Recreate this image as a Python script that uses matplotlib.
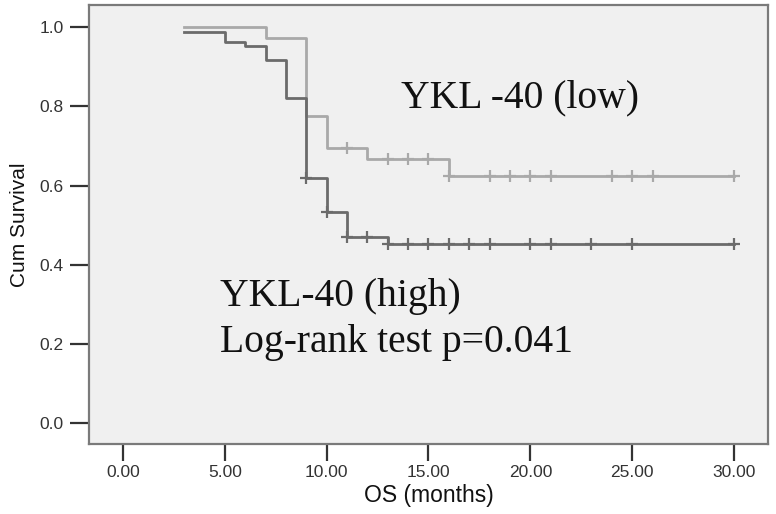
import numpy as np
import matplotlib
matplotlib.use("Agg")
import matplotlib.pyplot as plt

# ---- data ----
low_times = [3, 7, 9, 10, 12, 16, 30]
low_surv = [1.0, 0.973, 0.776, 0.695, 0.666, 0.624, 0.624]
low_censor = [11, 13, 14, 15, 16, 18, 19, 20, 21, 24, 25, 26, 30]

high_times = [3, 5, 6, 7, 8, 9, 10, 11, 13, 30]
high_surv = [0.987, 0.963, 0.952, 0.916, 0.821, 0.618, 0.532, 0.469, 0.452, 0.452]
high_censor = [9, 10, 11, 12, 13, 14, 15, 16, 17, 18, 20, 21, 23, 25, 30]

x_ticks = [0, 5, 10, 15, 20, 25, 30]
x_ticklabels = ["0.00", "5.00", "10.00", "15.00", "20.00", "25.00", "30.00"]
y_ticks = [0.0, 0.2, 0.4, 0.6, 0.8, 1.0]
y_ticklabels = ["0.0", "0.2", "0.4", "0.6", "0.8", "1.0"]

label_low = "YKL -40 (low)"
label_high = "YKL-40 (high)"
label_test = "Log-rank test p=0.041"


def step_value(times, surv, t):
    idx = np.searchsorted(times, t, side="right") - 1
    return np.asarray(surv)[idx]


fig = plt.figure(figsize=(7.76, 5.14), dpi=100)
ax = fig.add_axes([89 / 776, 1 - 444 / 514, (768 - 89) / 776, (444 - 5) / 514])
ax.set_facecolor("#f0f0f0")

light = "#a9a9a9"
dark = "#6b6b6b"

ax.plot(low_times, low_surv, drawstyle="steps-post", color=light, lw=2.0, zorder=3)
ax.plot(low_censor, step_value(low_times, low_surv, low_censor), ls="none",
        marker="+", ms=9, mew=1.6, color=light, zorder=4)

ax.plot(high_times, high_surv, drawstyle="steps-post", color=dark, lw=2.0, zorder=3)
ax.plot(high_censor, step_value(high_times, high_surv, high_censor), ls="none",
        marker="+", ms=9, mew=1.6, color=dark, zorder=4)

ax.set_xlim(-1.67, 31.67)
ax.set_ylim(-0.053, 1.056)

ax.set_xticks(x_ticks)
ax.set_xticklabels(x_ticklabels, fontsize=12.5, color="#333333", family="Liberation Sans")
ax.set_yticks(y_ticks)
ax.set_yticklabels(y_ticklabels, fontsize=12.5, color="#333333", family="Liberation Sans")
ax.tick_params(axis="x", length=12, width=1.6, color="#333333", pad=3)
ax.tick_params(axis="y", length=14, width=1.6, color="#333333", pad=4)

for s in ax.spines.values():
    s.set_color("#7a7a7a")
    s.set_linewidth(1.6)

ax.set_xlabel("OS (months)", fontsize=16.5, family="Liberation Sans", color="#111111", labelpad=3)
ax.set_ylabel("Cum Survival", fontsize=15, family="Liberation Sans", color="#111111", labelpad=8)

serif = "Liberation Serif"
ax.text(13.65, 0.798, label_low, fontsize=28.5, family=serif, ha="left", va="baseline", color="#111111")
ax.text(4.76, 0.295, label_high, fontsize=28.5, family=serif, ha="left", va="baseline", color="#111111")
ax.text(4.76, 0.179, label_test, fontsize=28.5, family=serif, ha="left", va="baseline", color="#111111")

fig.savefig("out.png", dpi=100, facecolor="white")
